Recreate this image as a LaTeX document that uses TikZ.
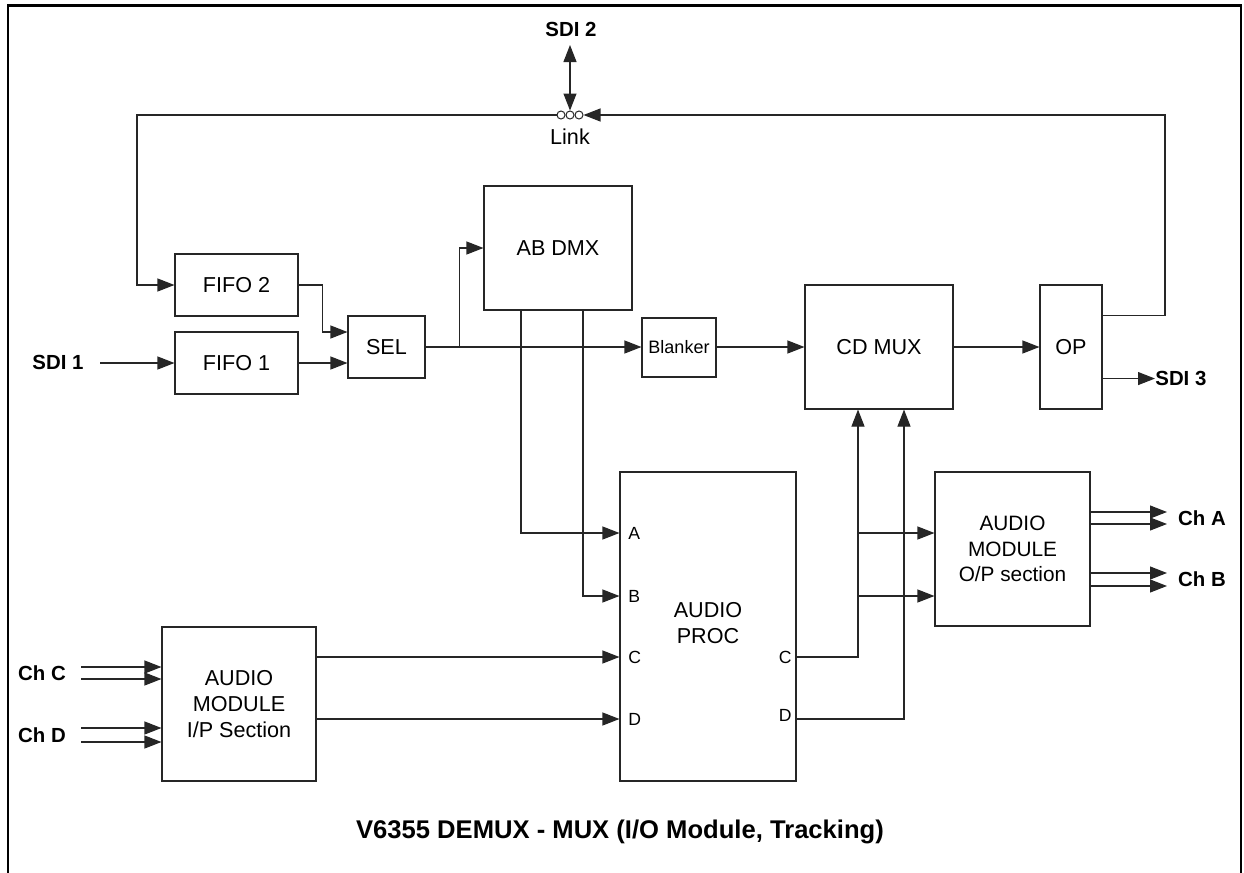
\documentclass[tikz,border=0pt]{standalone}
\usepackage{fontspec}
\setmainfont{Liberation Sans}
\usetikzlibrary{arrows.meta,calc}
\begin{document}
\begin{tikzpicture}[x=0.5pt,y=-0.5pt,
  box/.style={draw=black!85,line width=0.55pt,inner sep=0pt,align=center,font=\fontsize{10.8}{13}\selectfont},
  lbl/.style={font=\bfseries\fontsize{10.2}{12}\selectfont,inner sep=0pt},
  port/.style={font=\fontsize{8.8}{10}\selectfont,inner sep=0pt},
  wire/.style={draw=black!85,line width=0.55pt},
  tip/.tip={Triangle[length=8.5pt,width=6.5pt]},
  arr/.style={wire,-tip},
  ring/.style={circle,draw=black!85,line width=0.5pt,minimum size=4pt,inner sep=0pt}]
\useasboundingbox (0,0) rectangle (1244,873);
% frame
\draw[line width=1.4pt] (8,873) -- (8,5.5) -- (1241,5.5) -- (1241,873);

% boxes
\node[box,minimum width=61.5pt,minimum height=31pt] (fifo2) at (236.5,285) {FIFO 2};
\node[box,minimum width=61.5pt,minimum height=31pt] (fifo1) at (236.5,363) {FIFO 1};
\node[box,minimum width=38.5pt,minimum height=31pt] (sel) at (386.5,347) {SEL};
\node[box,minimum width=74pt,minimum height=62pt] (abdmx) at (558,248) {AB DMX};
\node[box,minimum width=37pt,minimum height=29.5pt,font=\fontsize{9}{11}\selectfont] (blanker) at (679,347.5) {Blanker};
\node[box,minimum width=74pt,minimum height=62pt] (cdmux) at (879,347) {CD MUX};
\node[box,minimum width=31pt,minimum height=62pt] (op) at (1071,347) {OP};
\node[box,minimum width=88pt,minimum height=154.5pt] (aproc) at (708,626.5) {};
\node[font=\fontsize{10.8}{13}\selectfont,align=center] (aproct) at (708,623) {AUDIO\\PROC};
\node[box,minimum width=77.5pt,minimum height=77pt,font=\fontsize{10.4}{12.8}\selectfont] (amout) at (1012.5,549) {AUDIO\\MODULE\\O/P section};
\node[box,minimum width=77pt,minimum height=77pt] (amin) at (239,704) {AUDIO\\MODULE\\I/P Section};

% link
\node[ring] (l1) at (561,115) {};
\node[ring] (l2) at (570,115) {};
\node[ring] (l3) at (579,115) {};
\node[font=\fontsize{10.8}{13}\selectfont,inner sep=0pt] (link) at (570,137) {Link};

% labels
\node[lbl] (sdi2) at (571,29) {SDI 2};
\node[lbl] (sdi1) at (58,362) {SDI 1};
\node[lbl,anchor=west] (sdi3) at (1155,378) {SDI 3};
\node[lbl] (cha) at (1202,518) {Ch A};
\node[lbl] (chb) at (1202,579) {Ch B};
\node[lbl] (chc) at (42,673) {Ch C};
\node[lbl] (chd) at (42,735) {Ch D};
\node[font=\bfseries\fontsize{12.8}{15}\selectfont,inner sep=0pt] (title) at (620,832) {V6355 DEMUX - MUX (I/O Module, Tracking)};

% port labels
\node[port,anchor=west] (pa) at (628,533) {A};
\node[port,anchor=west] (pb) at (628,596) {B};
\node[port,anchor=west] (pc) at (628,657) {C};
\node[port,anchor=west] (pd) at (628,719) {D};
\node[port,anchor=east] (pco) at (792,657) {C};
\node[port,anchor=east] (pdo) at (792,715) {D};

% SDI 2 link
\draw[wire,tip-tip] (570,45) -- (l2.north);
% loop from link to FIFO 2
\coordinate (lc) at (137,115);
\draw[arr] (l1.west) -- (lc) |- (fifo2.west);
% loop from OP back to link
\coordinate (opo) at ($(op.north east)+(0,31)$);
\coordinate (rc) at (1165,115);
\draw[arr] (opo) -| (rc) -- (l3.east);

% SDI 1 input
\coordinate (s1) at (100,363);
\draw[arr] (s1) -- (fifo1.west);
% FIFOs to SEL
\draw[arr] (fifo2.east) -- ++(24,0) |- ($(sel.west)+(0,-15)$);
\draw[arr] (fifo1.east) -- (fifo1.east -| sel.west);
% SEL out
\draw[arr] (sel.east) -- (sel.east -| blanker.west);
\coordinate (br) at ($(sel.east)+(34,0)$);
\draw[arr] (br) |- (abdmx.west);
\draw[arr] (blanker.east |- sel.east) -- (sel.east -| cdmux.west);
\draw[arr] (cdmux.east) -- (op.west);
% OP to SDI 3
\coordinate (opb) at ($(op.south east)+(0,-31)$);
\draw[arr] (opb) -- (opb -| sdi3.west);

% AB DMX to AUDIO PROC
\coordinate (da) at (521,310);
\coordinate (db) at (583,310);
\draw[arr] (da) |- (aproc.west |- pa.west);
\draw[arr] (db) |- (aproc.west |- pb.west);
% AUDIO MODULE I/P to AUDIO PROC
\draw[arr] (amin.east |- pc.west) -- (aproc.west |- pc.west);
\draw[arr] (amin.east |- pd.west) -- (aproc.west |- pd.west);
% Ch C / Ch D inputs
\foreach \y in {667,679,728,742}{
  \draw[arr] (81,\y) -- (amin.west |- 0,\y);
}
% AUDIO PROC outputs to CD MUX
\coordinate (xc) at (858,657);
\coordinate (xd) at (904,719);
\draw[arr] (aproc.east |- xc) -- (xc) -- (xc |- cdmux.south);
\draw[arr] (aproc.east |- xd) -- (xd) -- (xd |- cdmux.south);
% branches to AUDIO MODULE O/P
\draw[arr] (858,533) -- (amout.west |- 0,533);
\draw[arr] (858,596) -- (amout.west |- 0,596);
% outputs Ch A / Ch B
\foreach \y in {512,524,573,586}{
  \draw[arr] (amout.east |- 0,\y) -- (1167,\y);
}
\end{tikzpicture}
\end{document}
